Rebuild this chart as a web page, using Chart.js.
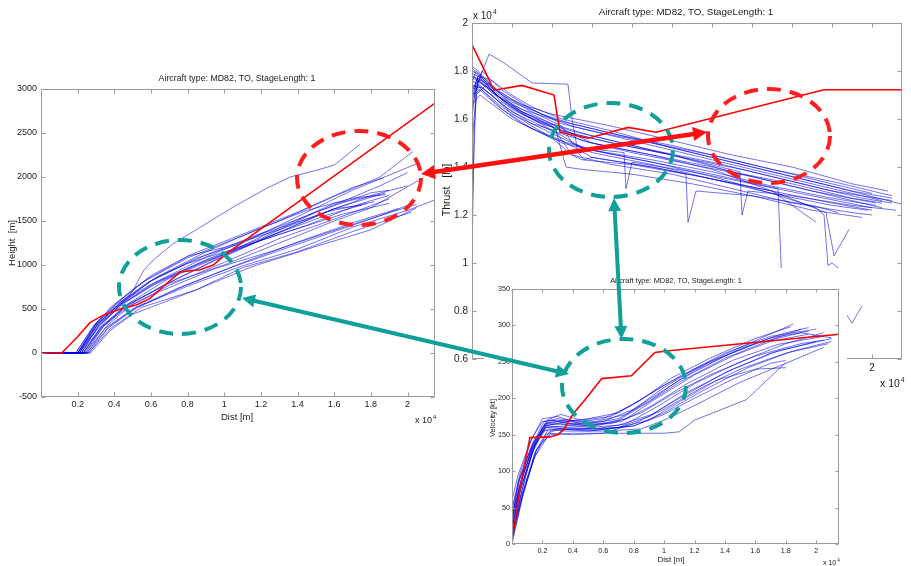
<!DOCTYPE html>
<html lang="en">
<head>
<meta charset="UTF-8" />
<title>MD82 take-off profiles</title>
<script src="https://cdn.jsdelivr.net/npm/chart.js@4"></script>
<style>
  html, body { margin: 0; padding: 0; background: #fff; overflow: hidden; }
  .stage { position: relative; width: 911px; height: 566px; }
  .stage canvas { position: absolute; left: 0; top: 0; }
</style>
</head>
<body>
<div class="stage">
  <canvas id="heightChart" width="911" height="566"></canvas>
  <canvas id="thrustChart" width="911" height="566"></canvas>
  <canvas id="velocityChart" width="911" height="566"></canvas>
</div>
<script>
// ---- data (distance in 10^4 m, thrust in 10^4 lb) ----
const distTicks = [0.2, 0.4, 0.6, 0.8, 1, 1.2, 1.4, 1.6, 1.8, 2];
const distLabels = ["0.2", "0.4", "0.6", "0.8", "1", "1.2", "1.4", "1.6", "1.8", "2"];
const heightTicks = [-500, 0, 500, 1000, 1500, 2000, 2500, 3000];
const thrustTicks = [0.6, 0.8, 1, 1.2, 1.4, 1.6, 1.8, 2];
const thrustLabels = ["0.6", "0.8", "1", "1.2", "1.4", "1.6", "1.8", "2"];
const velocityTicks = [0, 50, 100, 150, 200, 250, 300, 350];

// model profile (red)
const heightModel = [[0,0],[0.113,0],[0.2,185],[0.267,345],[0.34,430],[0.44,505],[0.52,545],[0.595,620],[0.686,790],[0.758,920],[0.867,945],[0.94,1000],[1.013,1130],[2.15,2840]];
const thrustModel = [[0,1.91],[0.11,1.72],[0.25,1.74],[0.41,1.70],[0.425,1.62],[0.44,1.545],[0.58,1.52],[0.78,1.565],[0.92,1.545],[1.76,1.722],[2.15,1.722]];
const velocityModel = [[0.005,12],[0.06,85],[0.118,146],[0.25,147],[0.3,150],[0.34,157],[0.4,178],[0.48,198],[0.59,227],[0.785,231],[0.94,263],[1.015,265],[2.15,288]];

// measured flights (blue)
const heightRuns = [
  [[0,0],[0.2,0],[0.3,250],[0.42,520],[0.5,700],[0.56,940],[0.62,1070],[0.72,1240],[0.87,1430],[1.05,1660],[1.23,1870],[1.36,2000],[1.5,2075],[1.6,2135],[1.74,2370]],
  [[0,0],[0.19,0],[0.28,280],[0.38,520],[0.55,800],[0.8,1080],[1.0,1250],[1.3,1500],[1.6,1780],[1.85,2000],[2.03,2290]],
  [[0,0],[0.2,0],[0.3,300],[0.4,500],[0.6,820],[0.85,1080],[1.1,1250],[1.4,1550],[1.7,1850],[2.05,2150]],
  [[0,0],[0.21,0],[0.32,320],[0.45,560],[0.65,820],[0.9,1060],[1.2,1300],[1.5,1600],[1.8,1820],[1.9,1850]],
  [[0,0],[0.22,0],[0.33,300],[0.46,540],[0.7,850],[1.0,1120],[1.3,1420],[1.6,1700],[1.85,1800]],
  [[0,0],[0.2,0],[0.31,330],[0.44,580],[0.6,780],[0.9,1050],[1.2,1280],[1.45,1450],[1.75,1700],[1.9,1790]],
  [[0,0],[0.23,0],[0.34,300],[0.48,560],[0.7,790],[1.0,1000],[1.3,1250],[1.6,1500],[1.8,1650],[2.06,1960]],
  [[0,0],[0.24,0],[0.35,280],[0.5,500],[0.75,740],[1.05,980],[1.35,1200],[1.6,1380],[1.85,1560],[2.05,1690]],
  [[0,0],[0.25,0],[0.37,300],[0.52,520],[0.8,760],[1.1,990],[1.4,1180],[1.7,1430],[2.0,1620],[2.15,1740]],
  [[0,0],[0.26,0],[0.38,280],[0.55,520],[0.85,720],[1.15,980],[1.5,1210],[1.8,1400],[2.05,1650]],
  [[0,0],[0.27,0],[0.38,260],[0.5,440],[0.65,560],[0.85,720],[1.1,970],[1.4,1150],[1.7,1380],[2.02,1600]],
  [[0,0],[0.22,0],[0.32,320],[0.44,560],[0.6,760],[0.85,1000],[1.1,1200],[1.35,1420],[1.6,1640],[1.75,1680]],
  [[0,0],[0.2,0],[0.3,340],[0.42,580],[0.6,880],[0.8,1100],[1.0,1200],[1.3,1400],[1.55,1600],[1.82,1720]],
  [[0,0],[0.21,0],[0.3,320],[0.43,560],[0.62,850],[0.9,1150],[1.2,1420],[1.45,1620],[1.7,1760],[1.88,1800]],
  [[0,0],[0.19,0],[0.29,320],[0.41,560],[0.58,840],[0.82,1120],[1.1,1350],[1.4,1600],[1.7,1880],[1.87,1990]],
  [[0,0],[0.24,0],[0.34,300],[0.47,520],[0.65,700],[0.95,960],[1.25,1150],[1.55,1360],[1.85,1560],[2.03,1700]],
  [[0,0],[0.23,0],[0.33,290],[0.46,520],[0.66,760],[0.95,1060],[1.25,1330],[1.55,1560],[1.78,1700]],
  [[0,0],[0.25,0],[0.36,310],[0.49,540],[0.7,770],[1.0,1030],[1.3,1300],[1.6,1520],[1.9,1750]],
  [[0,0],[0.22,0],[0.31,310],[0.43,540],[0.62,800],[0.9,1090],[1.2,1350],[1.5,1560],[1.8,1790],[2.0,1900]],
  [[0,0],[0.2,0],[0.3,330],[0.42,560],[0.58,800],[0.8,1020],[1.05,1180],[1.35,1380],[1.65,1580],[1.9,1700]],
  [[0,0],[0.23,0],[0.33,300],[0.46,530],[0.68,780],[0.98,1080],[1.3,1370],[1.6,1640],[1.88,1820]],
  [[0,0],[0.26,0],[0.37,290],[0.52,510],[0.78,760],[1.08,1010],[1.4,1260],[1.7,1480],[1.95,1640]],
  [[0,0],[0.21,0],[0.31,330],[0.44,590],[0.64,870],[0.92,1130],[1.25,1400],[1.55,1640],[1.85,1900],[2.0,2050]]
];
const thrustRuns = [
  [[0,1.0],[0.01,1.55],[0.03,1.78],[0.1,1.76],[0.2,1.7],[0.3,1.65],[0.45,1.6],[0.7,1.55],[1.0,1.48],[1.3,1.42],[1.6,1.36],[1.9,1.3],[2.1,1.27]],
  [[0,1.2],[0.02,1.72],[0.05,1.8],[0.15,1.72],[0.3,1.64],[0.45,1.58],[0.6,1.55],[0.9,1.5],[1.2,1.44],[1.5,1.38],[1.8,1.32],[2.15,1.245]],
  [[0,1.65],[0.03,1.75],[0.085,1.87],[0.15,1.84],[0.25,1.78],[0.3,1.75],[0.48,1.745],[0.5,1.6],[0.53,1.46],[0.56,1.43],[0.6,1.44],[0.9,1.4],[1.2,1.35],[1.5,1.3],[1.8,1.25],[2.0,1.22]],
  [[0,1.75],[0.02,1.8],[0.1,1.74],[0.2,1.66],[0.35,1.6],[0.45,1.56],[0.6,1.5],[0.9,1.45],[1.2,1.4],[1.5,1.34],[1.8,1.28],[2.05,1.23]],
  [[0,1.7],[0.03,1.78],[0.12,1.7],[0.25,1.62],[0.4,1.57],[0.5,1.45],[0.55,1.43],[0.8,1.41],[1.07,1.37],[1.08,1.17],[1.12,1.3],[1.4,1.28],[1.7,1.22],[1.95,1.19]],
  [[0,1.78],[0.05,1.76],[0.15,1.68],[0.3,1.6],[0.45,1.53],[0.55,1.48],[0.76,1.46],[0.77,1.31],[0.8,1.42],[1.1,1.38],[1.4,1.33],[1.7,1.28],[2.0,1.23]],
  [[0,1.6],[0.02,1.76],[0.1,1.72],[0.2,1.64],[0.35,1.58],[0.5,1.54],[0.7,1.5],[1.0,1.45],[1.34,1.38],[1.35,1.2],[1.38,1.3],[1.6,1.28],[1.9,1.24],[2.12,1.22]],
  [[0,1.73],[0.05,1.72],[0.15,1.65],[0.3,1.57],[0.45,1.5],[0.6,1.47],[0.9,1.42],[1.2,1.37],[1.53,1.31],[1.55,0.9],[1.58,0.7]],
  [[0,1.8],[0.04,1.78],[0.12,1.7],[0.25,1.64],[0.4,1.6],[0.6,1.56],[0.9,1.5],[1.2,1.45],[1.5,1.39],[1.8,1.34],[2.1,1.28]],
  [[0,1.68],[0.03,1.74],[0.1,1.7],[0.2,1.62],[0.35,1.56],[0.45,1.52],[0.6,1.46],[0.9,1.41],[1.2,1.35],[1.5,1.3],[1.72,1.17]],
  [[0,1.76],[0.04,1.74],[0.15,1.66],[0.3,1.58],[0.42,1.55],[0.47,1.4],[0.55,1.39],[0.8,1.37],[1.1,1.33],[1.4,1.28],[1.7,1.24],[1.83,1.21]],
  [[0,1.72],[0.03,1.77],[0.1,1.73],[0.2,1.67],[0.35,1.62],[0.5,1.58],[0.75,1.53],[1.0,1.49],[1.3,1.43],[1.6,1.37],[1.9,1.31],[2.0,1.29]],
  [[0,1.74],[0.05,1.73],[0.2,1.63],[0.4,1.55],[0.6,1.5],[0.9,1.45],[1.2,1.39],[1.5,1.3],[1.77,1.21],[1.81,1.03],[1.885,1.14]],
  [[0,1.66],[0.04,1.7],[0.2,1.6],[0.4,1.52],[0.6,1.47],[0.9,1.42],[1.2,1.36],[1.5,1.29],[1.72,1.23],[1.76,1.2],[1.78,0.99],[1.8,1.0],[1.83,0.98],[1.86,0.8],[1.9,0.75],[1.95,0.82]],
  [[0,1.5],[0.02,1.7],[0.08,1.75],[0.2,1.68],[0.35,1.62],[0.5,1.57],[0.7,1.53],[1.0,1.47],[1.3,1.41],[1.6,1.35],[1.9,1.29],[2.05,1.26]],
  [[0,1.79],[0.05,1.77],[0.15,1.7],[0.3,1.63],[0.45,1.57],[0.5,1.5],[0.6,1.47],[0.9,1.43],[1.2,1.38],[1.5,1.32],[1.8,1.27],[2.02,1.24]],
  [[0,1.82],[0.03,1.8],[0.12,1.72],[0.25,1.66],[0.4,1.62],[0.7,1.57],[1.0,1.51],[1.3,1.45],[1.6,1.4],[1.9,1.33],[2.08,1.3]],
  [[0,1.7],[0.04,1.72],[0.12,1.66],[0.25,1.58],[0.4,1.52],[0.5,1.45],[0.7,1.41],[1.0,1.37],[1.3,1.31],[1.6,1.25],[1.9,1.21],[2.0,1.2]],
  [[0,1.77],[0.04,1.76],[0.15,1.67],[0.3,1.6],[0.45,1.55],[0.7,1.5],[1.0,1.45],[1.3,1.38],[1.6,1.33],[1.9,1.27],[2.05,1.25]],
  [[0,1.81],[0.03,1.79],[0.12,1.71],[0.25,1.63],[0.4,1.58],[0.6,1.53],[0.9,1.47],[1.2,1.42],[1.5,1.36],[1.8,1.3],[2.1,1.26]],
  [[0,1.74],[0.04,1.73],[0.15,1.64],[0.3,1.56],[0.45,1.51],[0.6,1.44],[0.9,1.4],[1.2,1.35],[1.5,1.29],[1.8,1.24],[1.98,1.22]],
  [[0,1.69],[0.03,1.76],[0.1,1.71],[0.25,1.63],[0.4,1.57],[0.55,1.51],[0.8,1.46],[1.1,1.41],[1.4,1.36],[1.7,1.3],[2.02,1.25]],
  [[0,1.78],[0.05,1.75],[0.2,1.65],[0.35,1.59],[0.5,1.55],[0.75,1.5],[1.05,1.44],[1.35,1.39],[1.65,1.33],[1.95,1.27],[2.1,1.25]]
];
const velocityRuns = [
  [[0,5],[0.05,60],[0.12,120],[0.2,160],[0.25,170],[0.4,165],[0.6,168],[0.8,185],[1.0,215],[1.2,240],[1.5,270],[1.85,302]],
  [[0,10],[0.06,70],[0.14,130],[0.22,165],[0.3,168],[0.5,162],[0.7,170],[0.9,195],[1.1,222],[1.4,255],[1.7,280],[1.9,295]],
  [[0,20],[0.05,80],[0.15,140],[0.23,162],[0.35,160],[0.55,158],[0.75,165],[0.95,188],[1.2,220],[1.5,250],[1.8,275],[2.05,290]],
  [[0,30],[0.04,85],[0.12,130],[0.2,155],[0.3,158],[0.5,155],[0.7,160],[0.9,175],[1.1,200],[1.4,235],[1.7,262],[2.0,278]],
  [[0,0],[0.08,75],[0.16,130],[0.25,150],[0.4,152],[0.6,152],[0.8,152],[1.0,152],[1.1,154],[1.2,170],[1.54,198],[1.8,249]],
  [[0,15],[0.06,65],[0.15,125],[0.24,158],[0.35,155],[0.6,155],[0.85,158],[1.0,170],[1.2,190],[1.5,222],[1.8,248],[2.05,270]],
  [[0,50],[0.05,90],[0.13,135],[0.21,168],[0.3,172],[0.45,168],[0.6,172],[0.8,192],[1.0,218],[1.3,250],[1.6,275],[1.9,290],[2.1,283]],
  [[0,40],[0.07,95],[0.16,145],[0.23,170],[0.32,178],[0.45,170],[0.65,175],[0.85,198],[1.05,228],[1.3,255],[1.6,282],[1.83,298]],
  [[0,8],[0.07,70],[0.15,120],[0.25,152],[0.4,150],[0.6,152],[0.8,165],[1.0,185],[1.25,215],[1.5,240],[1.8,262],[2.08,275]],
  [[0,25],[0.05,75],[0.14,128],[0.22,160],[0.35,162],[0.55,162],[0.75,172],[0.95,200],[1.2,232],[1.45,258],[1.7,278],[1.95,288]],
  [[0,60],[0.04,95],[0.12,140],[0.2,172],[0.3,175],[0.45,165],[0.65,165],[0.85,180],[1.05,205],[1.3,232],[1.6,258],[1.9,275],[2.05,280]],
  [[0,12],[0.06,60],[0.14,115],[0.22,150],[0.3,158],[0.5,158],[0.7,160],[0.9,170],[1.1,195],[1.35,225],[1.6,240],[1.8,242]],
  [[0,35],[0.06,85],[0.13,130],[0.22,162],[0.35,168],[0.5,172],[0.7,180],[0.9,205],[1.1,230],[1.4,262],[1.7,285],[2.0,295]],
  [[0,18],[0.05,70],[0.15,135],[0.23,165],[0.3,165],[0.5,160],[0.7,163],[0.92,178],[1.15,208],[1.45,240],[1.75,265],[2.1,282]],
  [[0,45],[0.05,95],[0.13,145],[0.2,168],[0.3,170],[0.5,165],[0.7,172],[0.9,196],[1.1,225],[1.4,258],[1.7,283],[1.95,292]],
  [[0,22],[0.06,78],[0.15,135],[0.23,160],[0.35,158],[0.55,156],[0.8,162],[1.0,180],[1.25,210],[1.55,242],[1.85,265],[2.1,278]],
  [[0,28],[0.05,80],[0.14,138],[0.22,166],[0.35,170],[0.55,168],[0.75,178],[0.95,205],[1.2,238],[1.5,268],[1.8,290],[1.95,297]],
  [[0,5],[0.07,65],[0.16,128],[0.25,155],[0.4,158],[0.6,158],[0.8,162],[1.0,178],[1.2,200],[1.45,226],[1.7,248],[1.8,252]],
  [[0,38],[0.05,88],[0.14,140],[0.22,163],[0.32,165],[0.52,163],[0.72,168],[0.92,190],[1.15,220],[1.45,252],[1.75,274],[2.05,285]]
];

// ---- drawing ----
const W = 911, H = 566;
const FONT = "'Liberation Sans', Arial, Helvetica, sans-serif";
const BLUE = "rgba(0, 0, 225, 0.62)";
const RED = "#ff0000";
const TEAL = "#11a099";
const DASH_RED = "#ff1e1e";

function pts(arr) {
  return arr.map(([x, y]) => ({ x, y }));
}

function lineSets(model, runs) {
  const sets = [{ data: pts(model), borderColor: RED, borderWidth: 1.6, order: 0 }];
  runs.forEach(r => sets.push({ data: pts(r), borderColor: BLUE, borderWidth: 0.9, order: 1 }));
  sets.forEach(s => { s.showLine = true; s.pointRadius = 0; s.tension = 0; s.fill = false; });
  return sets;
}

// "x 10^4" exponent label, x = left edge, y = baseline
function expLabel(ctx, x, y, size) {
  ctx.font = size + "px " + FONT;
  ctx.textAlign = "left";
  ctx.textBaseline = "alphabetic";
  ctx.fillText("x 10", x, y);
  const w = ctx.measureText("x 10").width;
  ctx.font = (size * 0.65) + "px " + FONT;
  ctx.fillText("4", x + w + 1, y - size * 0.5);
}

// MATLAB-ish box axes with inward ticks
const matlabAxes = {
  id: "matlabAxes",
  beforeDraw(chart, args, o) {
    if (!o.figure) return;
    const ctx = chart.ctx;
    ctx.save();
    ctx.fillStyle = "#fff";
    ctx.fillRect(o.figure[0], o.figure[1], o.figure[2], o.figure[3]);
    ctx.restore();
  },
  afterDatasetsDraw(chart, args, o) {
    const { ctx, chartArea: a } = chart;
    const x = chart.scales.x, y = chart.scales.y;
    const L = Math.round(a.left) + 0.5, R = Math.round(a.right) - 0.5;
    const T = Math.round(a.top) + 0.5, B = Math.round(a.bottom) - 0.5;
    ctx.save();
    ctx.strokeStyle = "#9a9a9a";
    ctx.lineWidth = 1;
    ctx.beginPath();
    o.xTicks.forEach(v => {
      const p = Math.round(x.getPixelForValue(v)) + 0.5;
      ctx.moveTo(p, B); ctx.lineTo(p, B - o.tick);
      ctx.moveTo(p, T); ctx.lineTo(p, T + o.tick);
    });
    o.yTicks.forEach(v => {
      const p = Math.round(y.getPixelForValue(v)) + 0.5;
      ctx.moveTo(L, p); ctx.lineTo(L + o.tick, p);
      ctx.moveTo(R, p); ctx.lineTo(R - o.tick, p);
    });
    ctx.stroke();
    ctx.strokeRect(L, T, R - L, B - T);

    ctx.fillStyle = "#222";
    ctx.font = o.tickSize + "px " + FONT;
    ctx.textAlign = "center";
    ctx.textBaseline = "middle";
    o.xTicks.forEach((v, i) => ctx.fillText(o.xLabels[i], x.getPixelForValue(v), a.bottom + o.xGap));
    ctx.textAlign = "right";
    o.yTicks.forEach((v, i) => ctx.fillText(o.yLabels[i], a.left - o.yGap, y.getPixelForValue(v)));

    ctx.textAlign = "center";
    ctx.font = o.title.size + "px " + FONT;
    ctx.fillText(o.title.text, o.title.x, o.title.y);
    if (o.xTitle) {
      ctx.font = o.xTitle.size + "px " + FONT;
      ctx.fillText(o.xTitle.text, o.xTitle.x, o.xTitle.y);
    }
    ctx.save();
    ctx.translate(o.yTitle.x, o.yTitle.y);
    ctx.rotate(-Math.PI / 2);
    ctx.font = o.yTitle.size + "px " + FONT;
    ctx.fillText(o.yTitle.text, 0, 0);
    ctx.restore();
    (o.exps || []).forEach(e => expLabel(ctx, e[0], e[1], e[2]));
    ctx.restore();
  }
};

function dashedEllipse(ctx, cx, cy, rx, ry, color) {
  ctx.save();
  ctx.strokeStyle = color;
  ctx.lineWidth = 4;
  ctx.setLineDash([14, 9]);
  ctx.beginPath();
  ctx.ellipse(cx, cy, rx, ry, 0, 0, Math.PI * 2);
  ctx.stroke();
  ctx.restore();
}

function doubleArrow(ctx, x1, y1, x2, y2, color, w, hl) {
  const ang = Math.atan2(y2 - y1, x2 - x1);
  const c = Math.cos(ang), s = Math.sin(ang), hw = hl * 0.5;
  ctx.save();
  ctx.strokeStyle = color;
  ctx.fillStyle = color;
  ctx.lineWidth = w;
  ctx.beginPath();
  ctx.moveTo(x1 + c * hl * 0.7, y1 + s * hl * 0.7);
  ctx.lineTo(x2 - c * hl * 0.7, y2 - s * hl * 0.7);
  ctx.stroke();
  [[x2, y2, c, s], [x1, y1, -c, -s]].forEach(([tx, ty, dc, ds]) => {
    ctx.beginPath();
    ctx.moveTo(tx, ty);
    ctx.lineTo(tx - hl * dc + hw * ds, ty - hl * ds - hw * dc);
    ctx.lineTo(tx - hl * dc - hw * ds, ty - hl * ds + hw * dc);
    ctx.closePath();
    ctx.fill();
  });
  ctx.restore();
}

const highlights = {
  id: "highlights",
  afterDraw(chart) {
    const ctx = chart.ctx;
    dashedEllipse(ctx, 359, 178, 62, 47, DASH_RED);
    dashedEllipse(ctx, 180, 287, 61, 47, TEAL);
    dashedEllipse(ctx, 769, 136, 61, 47, DASH_RED);
    dashedEllipse(ctx, 611, 150, 62, 47, TEAL);
    dashedEllipse(ctx, 624, 386, 62, 47, TEAL);
    doubleArrow(ctx, 421, 174, 707, 132, "#ff1010", 4.5, 14);
    doubleArrow(ctx, 614, 198, 621.5, 339, TEAL, 4, 13);
    doubleArrow(ctx, 242, 298, 569, 374, TEAL, 4, 13);
  }
};

function makeChart(id, area, xMax, yRange, datasets, axes, extra) {
  return new Chart(document.getElementById(id), {
    type: "scatter",
    data: { datasets },
    options: {
      responsive: false,
      animation: false,
      events: [],
      layout: { padding: { left: area[0], top: area[1], right: W - area[2], bottom: H - area[3] } },
      scales: {
        x: { type: "linear", min: 0, max: xMax, display: false },
        y: { type: "linear", min: yRange[0], max: yRange[1], display: false }
      },
      plugins: { legend: { display: false }, tooltip: { enabled: false }, matlabAxes: axes }
    },
    plugins: [matlabAxes].concat(extra || [])
  });
}

makeChart("heightChart", [41, 89, 435, 397], 2.15, [-500, 3000], lineSets(heightModel, heightRuns), {
  xTicks: distTicks, xLabels: distLabels, yTicks: heightTicks, yLabels: heightTicks.map(String),
  tick: 4, tickSize: 9, xGap: 7.5, yGap: 4,
  title: { text: "Aircraft type: MD82, TO, StageLength: 1", x: 237, y: 79, size: 8.8 },
  xTitle: { text: "Dist [m]", x: 237, y: 417, size: 9.5 },
  yTitle: { text: "Height  [m]", x: 12, y: 243, size: 9.5 },
  exps: [[415, 423, 9]]
});

makeChart("thrustChart", [472, 23, 902, 359], 2.15, [0.6, 2], lineSets(thrustModel, thrustRuns), {
  xTicks: distTicks, xLabels: distLabels, yTicks: thrustTicks, yLabels: thrustLabels,
  tick: 4, tickSize: 10, xGap: 9, yGap: 4,
  title: { text: "Aircraft type: MD82, TO, StageLength: 1", x: 686, y: 12, size: 9.8 },
  xTitle: null,
  yTitle: { text: "Thrust   [lb]", x: 447, y: 190, size: 10.5 },
  exps: [[473, 19, 10], [880, 387, 10.5]]
});

makeChart("velocityChart", [512, 289, 839, 544], 2.15, [0, 350], lineSets(velocityModel, velocityRuns), {
  figure: [484, 268, 363, 298],
  xTicks: distTicks, xLabels: distLabels, yTicks: velocityTicks, yLabels: velocityTicks.map(String),
  tick: 3, tickSize: 7.2, xGap: 7, yGap: 2,
  title: { text: "Aircraft type: MD82, TO, StageLength: 1", x: 676, y: 281, size: 7.4 },
  xTitle: { text: "Dist [m]", x: 671, y: 560, size: 8 },
  yTitle: { text: "Velocity [kt]", x: 493, y: 418, size: 7.5 },
  exps: [[823, 565, 7]]
}, [highlights]);
</script>
</body>
</html>
